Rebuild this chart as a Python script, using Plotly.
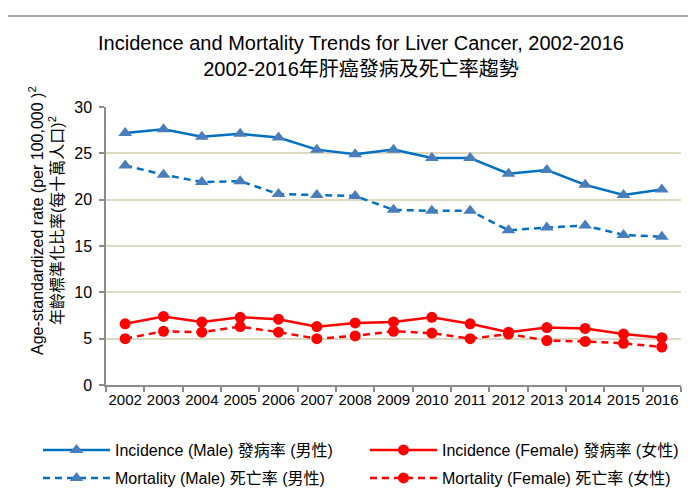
import plotly.graph_objects as go

years = [str(y) for y in range(2002, 2017)]
inc_male = [27.2, 27.6, 26.8, 27.1, 26.7, 25.4, 24.9, 25.4, 24.5, 24.5, 22.8, 23.2, 21.6, 20.5, 21.1]
mort_male = [23.7, 22.7, 21.9, 22.0, 20.6, 20.5, 20.4, 18.9, 18.8, 18.8, 16.7, 17.0, 17.2, 16.2, 16.0]
inc_female = [6.6, 7.4, 6.8, 7.3, 7.1, 6.3, 6.7, 6.8, 7.3, 6.6, 5.7, 6.2, 6.1, 5.5, 5.1]
mort_female = [5.0, 5.8, 5.7, 6.3, 5.7, 5.0, 5.3, 5.8, 5.6, 5.0, 5.5, 4.8, 4.7, 4.5, 4.1]

names = ["Incidence (Male) 發病率 (男性)", "Incidence (Female) 發病率 (女性)",
         "Mortality (Male) 死亡率 (男性)", "Mortality (Female) 死亡率 (女性)"]
title_lines = ["Incidence and Mortality Trends for Liver Cancer, 2002-2016",
               "2002-2016年肝癌發病及死亡率趨勢"]
ytitle_lines = ["Age-standardized rate (per 100,000 )<sup>2</sup>",
                "年齡標準化比率(每十萬人口)<sup>2</sup>"]

FONT = "Liberation Sans, Arial, Noto Sans CJK TC, sans-serif"
BLUE_LINE = "#0070C0"
BLUE_MARK = "#4A7EBB"
RED = "#FF0000"

# page body has an 8px default margin; work in screen pixels
OFF = 8
W, H = 696, 497
SL, SR, ST, SB = 106, 681, 107, 385          # plot area in screen px
L, T = SL - OFF, ST - OFF
R, B = W - (SR - OFF), H - (SB - OFF)
pw, ph = SR - SL, SB - ST


def px_x(p):
    return (p - SL) / pw


def px_y(p):
    return (SB - p) / ph


fig = go.Figure()
fig.add_trace(go.Scatter(x=years, y=inc_male, name=names[0], mode="lines+markers",
                         legend="legend",
                         line=dict(color=BLUE_LINE, width=2.5),
                         marker=dict(symbol="triangle-up", size=12, color=BLUE_MARK)))
fig.add_trace(go.Scatter(x=years, y=inc_female, name=names[1], mode="lines+markers",
                         legend="legend2",
                         line=dict(color=RED, width=2.5),
                         marker=dict(symbol="circle", size=11, color=RED)))
fig.add_trace(go.Scatter(x=years, y=mort_male, name=names[2], mode="lines+markers",
                         legend="legend3",
                         line=dict(color=BLUE_LINE, width=2.5, dash="7px,5px"),
                         marker=dict(symbol="triangle-up", size=12, color=BLUE_MARK)))
fig.add_trace(go.Scatter(x=years, y=mort_female, name=names[3], mode="lines+markers",
                         legend="legend4",
                         line=dict(color=RED, width=2.5, dash="7px,5px"),
                         marker=dict(symbol="circle", size=11, color=RED)))


def leg(xp, yp):
    return dict(x=px_x(xp), xanchor="left", y=px_y(yp), yanchor="middle",
                itemwidth=67, font=dict(size=16, family=FONT),
                bgcolor="rgba(0,0,0,0)", borderwidth=0)


fig.update_layout(
    width=W, height=H,
    margin=dict(l=L, r=R, t=T, b=B, autoexpand=False),
    paper_bgcolor="white", plot_bgcolor="white",
    font=dict(family=FONT, color="black", size=15),
    title=dict(text="<br>".join(title_lines), x=353 / W, xanchor="center",
               y=1 - 42 / H, yanchor="top", yref="container",
               font=dict(size=20, family=FONT, color="black")),
    xaxis=dict(type="category", tickson="boundaries", showgrid=False,
               showline=True, linecolor="#8C8C8C", linewidth=1.5,
               ticks="outside", ticklen=5, tickcolor="#8C8C8C", tickwidth=1.5,
               tickfont=dict(size=15), tickangle=0, range=[-0.5, 14.5]),
    yaxis=dict(range=[0, 30], dtick=5, showgrid=True, gridcolor="#DDD9C3", gridwidth=1.5,
               showline=True, linecolor="#8C8C8C", linewidth=1.5,
               ticks="outside", ticklen=5, tickcolor="#8C8C8C", tickwidth=1.5,
               ticklabelstandoff=4,
               tickfont=dict(size=16), zeroline=False),
    legend=leg(38, 450),
    legend2=leg(365, 450),
    legend3=leg(38, 478),
    legend4=leg(365, 478),
    showlegend=True,
)

fig.add_annotation(text=ytitle_lines[0], xref="paper", yref="paper",
                   x=px_x(36), y=px_y(221), textangle=-90, showarrow=False,
                   xanchor="center", yanchor="middle", font=dict(size=16))
fig.add_annotation(text=ytitle_lines[1], xref="paper", yref="paper",
                   x=px_x(56), y=px_y(221), textangle=-90, showarrow=False,
                   xanchor="center", yanchor="middle", font=dict(size=16))

fig.add_shape(type="rect", xref="paper", yref="paper",
              x0=px_x(4), x1=px_x(710), y0=px_y(510), y1=px_y(16),
              line=dict(color="#8C8C8C", width=1.5), layer="below")

fig.write_html("out.html")
